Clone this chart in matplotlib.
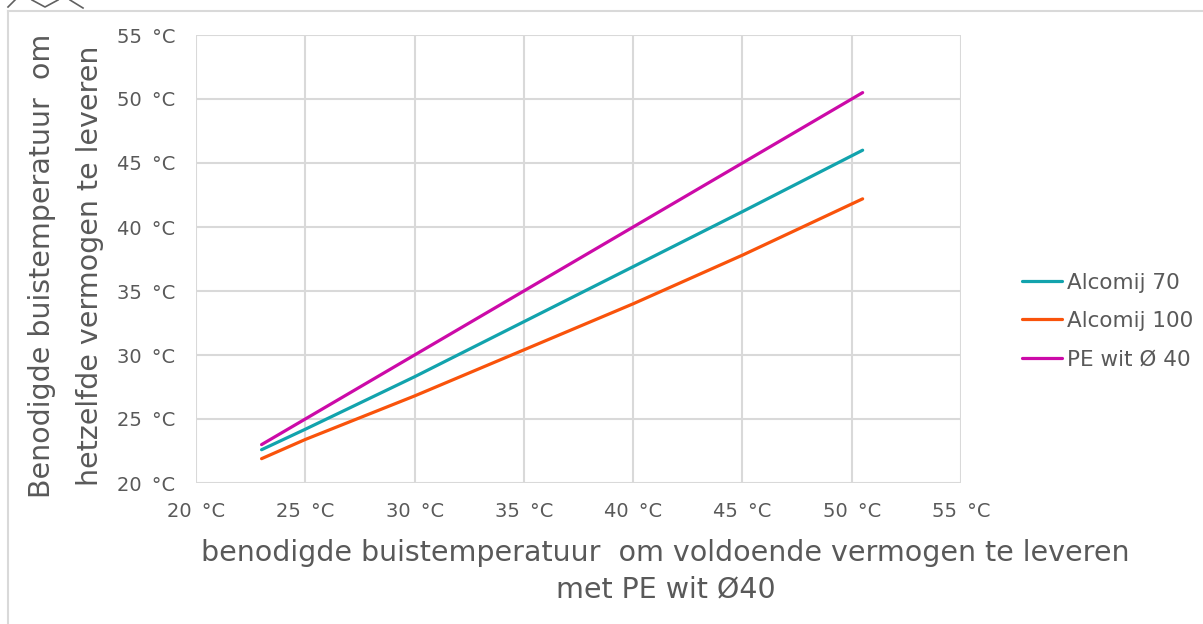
import matplotlib.pyplot as plt
from matplotlib.lines import Line2D

# x: benodigde buistemperatuur met PE wit Ø40
x_temp = [23, 25, 30, 35, 40, 45, 50.5]
alcomij_70 = [22.6, 24.2, 28.3, 32.6, 36.9, 41.2, 46.0]
alcomij_100 = [21.9, 23.4, 26.8, 30.4, 34.0, 37.8, 42.2]
pe_wit_40 = [23.0, 25.0, 30.0, 35.0, 40.0, 45.0, 50.5]

series_names = ["Alcomij 70", "Alcomij 100", "PE wit Ø 40"]
series_colors = ["#12a3ad", "#f9530b", "#cc0aa8"]
ticks = [20, 25, 30, 35, 40, 45, 50, 55]

W, H = 1203, 624
fig = plt.figure(figsize=(W / 100, H / 100), dpi=100)
fig.patch.set_facecolor("white")

ax = fig.add_axes([196 / W, 1 - 483 / H, 765 / W, 448 / H])
for name, ys, c in zip(series_names, [alcomij_70, alcomij_100, pe_wit_40], series_colors):
    ax.plot(x_temp, ys, color=c, lw=2.3, label=name, solid_capstyle="round")

ax.set_xlim(20, 55)
ax.set_ylim(20, 55)
ax.set_xticks(ticks)
ax.set_yticks(ticks)
lbls = [f"{t} \u2009°C" for t in ticks]
ax.set_xticklabels(lbls)
ax.set_yticklabels(lbls)
ax.grid(True, color="#d9d9d9", lw=1.5)
ax.set_axisbelow(True)
for s in ax.spines.values():
    s.set_visible(False)
ax.tick_params(length=0, labelsize=14, labelcolor="#595959")
ax.tick_params(axis="y", pad=15)
ax.tick_params(axis="x", pad=14)

ax.set_xlabel("benodigde buistemperatuur  om voldoende vermogen te leveren\nmet PE wit Ø40",
              fontsize=20.5, color="#595959", linespacing=1.4)
ax.xaxis.set_label_coords(0.614, -0.125)
ax.set_ylabel("Benodigde buistemperatuur  om\nhetzelfde vermogen te leveren",
              fontsize=20.5, color="#595959", linespacing=1.9)
ax.yaxis.set_label_coords(-0.12, 0.485)

leg = ax.legend(loc="center left", bbox_to_anchor=(1.055, 0.362), frameon=False,
                fontsize=15.5, labelcolor="#595959", handlelength=1.86, handletextpad=0.2,
                labelspacing=0.85)

# outer chart frame
fig.add_artist(Line2D([8 / W, 1], [1 - 11 / H, 1 - 11 / H], color="#d9d9d9", lw=1.5))
fig.add_artist(Line2D([8 / W, 8 / W], [0, 1 - 11 / H], color="#d9d9d9", lw=1.5))
# resize handle fragments at the top-left
for xs, ys in [([8, 15], [7, 0]), ([32, 45, 58], [0, 7, 0]), ([70, 83], [0, 8])]:
    fig.add_artist(Line2D([v / W for v in xs], [1 - v / H for v in ys], color="#606060", lw=1.2))

fig.savefig("out.png", dpi=100, facecolor="white")
